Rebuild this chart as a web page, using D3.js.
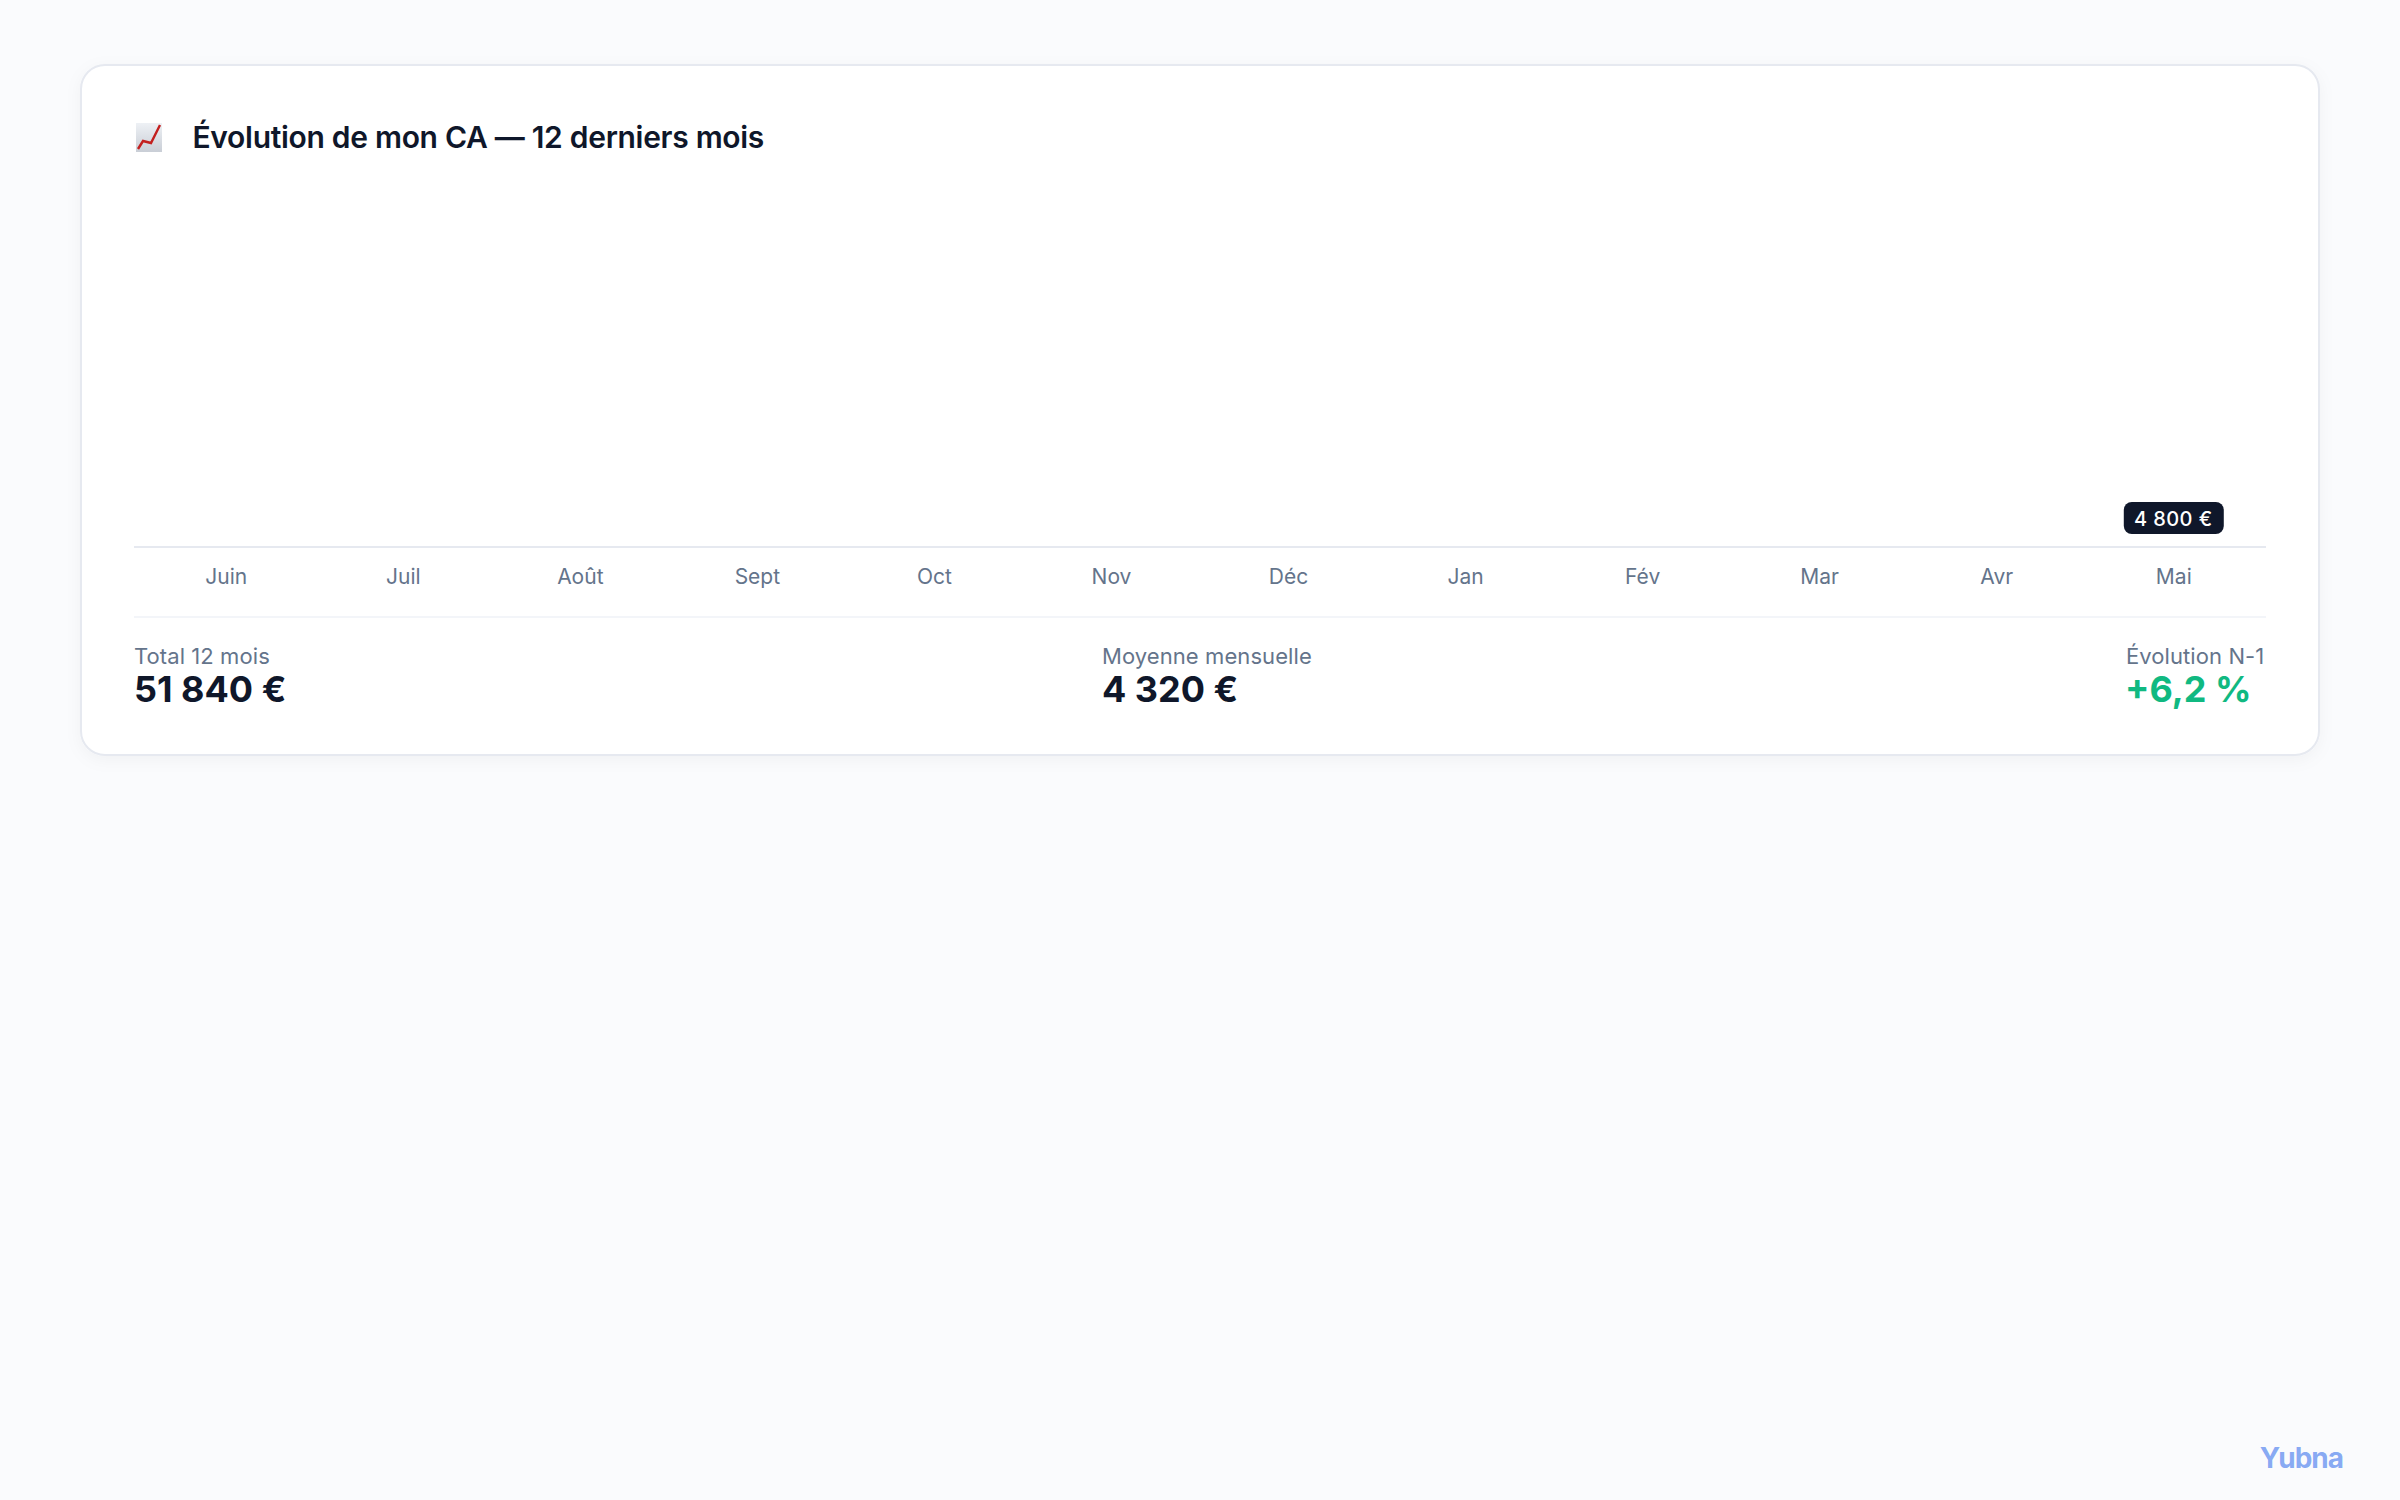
<!DOCTYPE html>
<html>
<head>
<meta charset="utf-8">
<script src="https://cdn.jsdelivr.net/npm/d3@7"></script>
<style>
  html, body { margin: 0; padding: 0; background: #fafbfd; }
  svg { display: block; font-family: Inter, sans-serif; }
</style>
</head>
<body>
<div id="chart"></div>
<script>
var months = ["Juin", "Juil", "Août", "Sept", "Oct", "Nov", "Déc", "Jan", "Fév", "Mar", "Avr", "Mai"];
// the picture only gives a value for the last month, the other bars are collapsed
var values = [null, null, null, null, null, null, null, null, null, null, null, 4800];
var statLabels = ["Total 12 mois", "Moyenne mensuelle", "Évolution N-1"];
var statValues = ["51 840 €", "4 320 €", "+6,2 %"];
var statColors = ["#0f172a", "#0f172a", "#10b981"];
var title = "Évolution de mon CA — 12 derniers mois";

var width = 2400, height = 1500;
var svg = d3.select("#chart").append("svg")
    .attr("width", width)
    .attr("height", height);

var defs = svg.append("defs");
var shadow = defs.append("filter").attr("id", "cardShadow")
    .attr("x", "-5%").attr("y", "-15%").attr("width", "110%").attr("height", "130%");
shadow.append("feDropShadow")
    .attr("dx", 0).attr("dy", 4).attr("stdDeviation", 8)
    .attr("flood-color", "#0f172a").attr("flood-opacity", 0.04);
var iconGrad = defs.append("linearGradient").attr("id", "iconBg")
    .attr("x1", 0).attr("y1", 0).attr("x2", 0).attr("y2", 1);
iconGrad.append("stop").attr("offset", "0%").attr("stop-color", "#eef1f5");
iconGrad.append("stop").attr("offset", "100%").attr("stop-color", "#c9ced6");

// card
svg.append("rect")
    .attr("x", 81).attr("y", 65)
    .attr("width", 2238).attr("height", 690)
    .attr("rx", 24)
    .attr("fill", "#fff")
    .attr("stroke", "#e6e9f0")
    .attr("stroke-width", 2)
    .attr("filter", "url(#cardShadow)");

// emoji icon, no emoji font available
var icon = svg.append("g").attr("transform", "translate(136,123)");
icon.append("rect").attr("width", 26).attr("height", 29).attr("fill", "url(#iconBg)");
icon.append("path")
    .attr("d", d3.line()([[2, 26], [7, 18], [15, 20], [24, 2]]))
    .attr("fill", "none")
    .attr("stroke", "#c3201f")
    .attr("stroke-width", 2.4);

svg.append("text")
    .attr("x", 192.5).attr("y", 148)
    .attr("font-size", 30)
    .attr("font-weight", 600)
    .attr("letter-spacing", -0.3)
    .attr("fill", "#0f172a")
    .text(title);

// month axis
var x = d3.scalePoint()
    .domain(months)
    .range([134, 2265])
    .padding(0.518);
var axisY = 547;

svg.append("line")
    .attr("x1", 134).attr("x2", 2266)
    .attr("y1", axisY).attr("y2", axisY)
    .attr("stroke", "#e6e9f0")
    .attr("stroke-width", 2);

svg.append("line")
    .attr("x1", 134).attr("x2", 2266)
    .attr("y1", 617).attr("y2", 617)
    .attr("stroke", "#f3f5f9")
    .attr("stroke-width", 2);

var axis = d3.axisBottom(x).tickSize(0).tickPadding(0);
var axisG = svg.append("g")
    .attr("transform", "translate(0," + axisY + ")")
    .call(axis);
axisG.select(".domain").remove();
axisG.selectAll("text")
    .attr("y", 30)
    .attr("dy", "0.35em")
    .attr("font-family", "Inter, sans-serif")
    .attr("font-size", 21)
    .attr("fill", "#64748b");

// value pills
var frFormat = function(v) {
    return d3.format(",")(v).replace(/,/g, " ") + " €";
};
var pills = svg.append("g").selectAll("g")
    .data(values.map(function(v, i) { return { month: months[i], value: v }; })
        .filter(function(d) { return d.value !== null; }))
    .enter().append("g")
    .attr("transform", function(d) { return "translate(" + x(d.month) + "," + (axisY - 29) + ")"; });
pills.append("rect")
    .attr("x", -49.5).attr("y", -16)
    .attr("width", 100).attr("height", 32)
    .attr("rx", 8)
    .attr("fill", "#0f172a");
pills.append("text")
    .attr("text-anchor", "middle")
    .attr("y", 1)
    .attr("dy", "0.36em")
    .attr("font-size", 20)
    .attr("font-weight", 500)
    .attr("letter-spacing", 0.4)
    .attr("fill", "#fff")
    .text(function(d) { return frFormat(d.value); });

// stats row
var statX = [134, 1102, 2126];
var stats = svg.append("g").selectAll("g")
    .data(statLabels)
    .enter().append("g")
    .attr("transform", function(d, i) { return "translate(" + statX[i] + ",0)"; });
stats.append("text")
    .attr("y", 664)
    .attr("font-size", 22)
    .attr("letter-spacing", 0.08)
    .attr("fill", "#64748b")
    .text(function(d) { return d; });
stats.append("text")
    .attr("y", 702)
    .attr("dx", function(d, i) { return i === 2 ? -1 : 0; })
    .attr("font-size", 36)
    .attr("font-weight", 700)
    .attr("fill", function(d, i) { return statColors[i]; })
    .text(function(d, i) { return statValues[i]; });

svg.append("text")
    .attr("x", 2343).attr("y", 1468)
    .attr("text-anchor", "end")
    .attr("font-size", 28)
    .attr("font-weight", 700)
    .attr("letter-spacing", -1)
    .attr("fill", "#2563eb")
    .attr("fill-opacity", 0.55)
    .text("Yubna");
</script>
</body>
</html>
